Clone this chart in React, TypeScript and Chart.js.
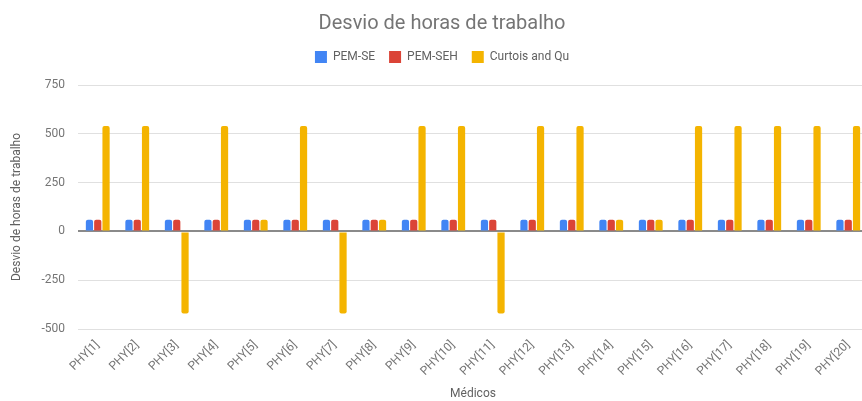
import React, { useEffect, useRef } from "react";
import { Chart, registerables } from "chart.js";

Chart.register(...registerables);

const categories = [
  "PHY[1]", "PHY[2]", "PHY[3]", "PHY[4]", "PHY[5]", "PHY[6]", "PHY[7]", "PHY[8]", "PHY[9]", "PHY[10]",
  "PHY[11]", "PHY[12]", "PHY[13]", "PHY[14]", "PHY[15]", "PHY[16]", "PHY[17]", "PHY[18]", "PHY[19]", "PHY[20]",
];
const pemSE = [60, 60, 60, 60, 60, 60, 60, 60, 60, 60, 60, 60, 60, 60, 60, 60, 60, 60, 60, 60];
const pemSEH = [60, 60, 60, 60, 60, 60, 60, 60, 60, 60, 60, 60, 60, 60, 60, 60, 60, 60, 60, 60];
const curtoisQu = [540, 540, -420, 540, 60, 540, -420, 60, 540, 540, -420, 540, 540, 60, 60, 540, 540, 540, 540, 540];
const yMin = -500;
const yMax = 750;
const yStep = 250;

const FONT = "Roboto, 'Noto Sans', Arial, sans-serif";

const shiftHeader = {
  id: "shiftHeader",
  afterLayout(chart: any) {
    const dx = 8;
    for (const box of [chart.titleBlock, chart.legend]) {
      if (box) {
        box.left += dx;
        box.right += dx;
      }
    }
  },
};

export default function App() {
  const ref = useRef<HTMLCanvasElement | null>(null);
  useEffect(() => {
    if (!ref.current) return;
    const chart = new Chart(ref.current, {
      type: "bar",
      data: {
        labels: categories,
        datasets: [
          { label: "PEM-SE", data: pemSE, backgroundColor: "#4285F4", borderRadius: 2 },
          { label: "PEM-SEH", data: pemSEH, backgroundColor: "#DB4437", borderRadius: 2 },
          { label: "Curtois and Qu", data: curtoisQu, backgroundColor: "#F4B400", borderRadius: 2 },
        ],
      },
      plugins: [shiftHeader],
      options: {
        responsive: false,
        animation: false,
        devicePixelRatio: 1,
        layout: { padding: { left: 0, right: 16, top: 0, bottom: 0 } },
        datasets: { bar: { categoryPercentage: 0.63, barPercentage: 0.87 } },
        plugins: {
          tooltip: { enabled: false },
          title: {
            display: true,
            text: "Desvio de horas de trabalho",
            color: "#757575",
            font: { family: FONT, size: 20, weight: "normal" },
            padding: { top: 12, bottom: 1 },
          },
          subtitle: {
            display: true,
            text: " ",
            color: "rgba(0,0,0,0)",
            font: { family: FONT, size: 7.5 },
            padding: { top: 3, bottom: 0 },
            weight: 500,
          } as any,
          legend: {
            display: true,
            position: "top",
            labels: {
              color: "#616161",
              font: { family: FONT, size: 12 },
              boxWidth: 12,
              boxHeight: 12,
              padding: 14,
            },
          },
        },
        scales: {
          x: {
            grid: { display: false, drawTicks: false },
            border: { display: false },
            ticks: {
              color: "#757575",
              font: { family: FONT, size: 12 },
              maxRotation: 45,
              minRotation: 45,
              autoSkip: false,
              padding: 9,
            },
            title: {
              display: true,
              text: "Médicos",
              color: "#616161",
              font: { family: FONT, size: 12 },
              padding: { top: 0, bottom: 0 },
            },
            afterFit: (s: any) => {
              s.height = 72;
            },
          },
          y: {
            min: yMin,
            max: yMax,
            ticks: {
              stepSize: yStep,
              color: "#757575",
              font: { family: FONT, size: 12 },
              padding: 13,
            },
            grid: {
              drawTicks: false,
              color: (c: any) => (c.tick && c.tick.value === 0 ? "#8a8a8a" : "#e0e0e0"),
              lineWidth: (c: any) => (c.tick && c.tick.value === 0 ? 2 : 1),
            },
            border: { display: false },
            title: {
              display: true,
              text: "Desvio de horas de trabalho",
              color: "#616161",
              font: { family: FONT, size: 12 },
              padding: { top: 10, bottom: 0 },
            },
            afterFit: (s: any) => {
              s.width = 78;
            },
          },
        },
      },
    });
    return () => chart.destroy();
  }, []);
  return (
    <div style={{ position: "fixed", left: 0, top: 0, width: 862, height: 401, overflow: "hidden", background: "#fff" }}>
      <canvas ref={ref} width={884} height={401} style={{ display: "block" }} />
    </div>
  );
}
